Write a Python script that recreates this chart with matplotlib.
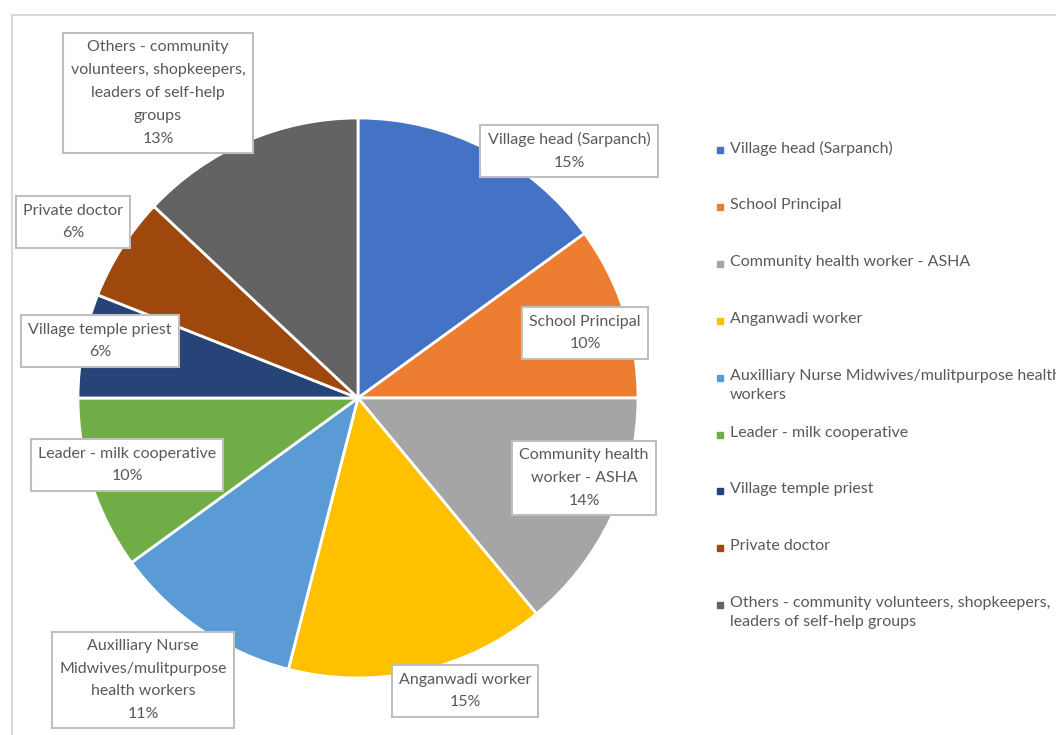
import matplotlib
matplotlib.use("Agg")
import matplotlib.pyplot as plt
from matplotlib.patches import Rectangle

plt.rcParams["font.family"] = ["Lato", "DejaVu Sans"]

categories = ["Village head (Sarpanch)", "School Principal",
              "Community health worker - ASHA", "Anganwadi worker",
              "Auxilliary Nurse Midwives/mulitpurpose health workers",
              "Leader - milk cooperative", "Village temple priest",
              "Private doctor",
              "Others - community volunteers, shopkeepers, leaders of self-help groups"]
shares = [15, 10, 14, 15, 11, 10, 6, 6, 13]
colors = ["#4472C4", "#ED7D31", "#A5A5A5", "#FFC000", "#5B9BD5",
          "#70AD47", "#264478", "#9E480E", "#636363"]

# wrapped text used in the data-label boxes
box_names = ["Village head (Sarpanch)", "School Principal",
             "Community health\nworker - ASHA", "Anganwadi worker",
             "Auxilliary Nurse\nMidwives/mulitpurpose\nhealth workers",
             "Leader - milk cooperative", "Village temple priest",
             "Private doctor",
             "Others - community\nvolunteers, shopkeepers,\nleaders of self-help\ngroups"]
# box centres in pixels (x, y from top)
box_pos = [(569, 151), (585, 333), (584, 478), (465, 691), (143, 680),
           (127, 465), (100, 341), (73, 222), (158, 93)]

legend_names = ["Village head (Sarpanch)", "School Principal",
                "Community health worker - ASHA", "Anganwadi worker",
                "Auxilliary Nurse Midwives/mulitpurpose health\nworkers",
                "Leader - milk cooperative", "Village temple priest",
                "Private doctor",
                "Others - community volunteers, shopkeepers,\nleaders of self-help groups"]

W, H = 1056, 735
fig = plt.figure(figsize=(W / 100, H / 100), dpi=100)
ax = fig.add_axes([0, 0, 1, 1])

# chart frame
fig.patches.append(Rectangle((12 / W, -0.1), 1.2, (H - 15) / H + 0.1,
                             transform=fig.transFigure, fill=False,
                             edgecolor="#d9d9d9", linewidth=1.5))

cx, cy, r = 358, H - 398, 280
ax.pie(shares, colors=colors, startangle=90, counterclock=False,
       center=(cx, cy), radius=r, frame=True,
       wedgeprops=dict(edgecolor="white", linewidth=2))
ax.set_xlim(0, W)
ax.set_ylim(0, H)
ax.axis("off")

txt_col = "#595959"
for name, val, (bx, by) in zip(box_names, shares, box_pos):
    ax.text(bx, H - by, f"{name}\n{val}%", ha="center", va="center",
            fontsize=11.5, color=txt_col, linespacing=1.8,
            bbox=dict(boxstyle="square,pad=0.45", facecolor="white",
                      edgecolor="#bfbfbf", linewidth=1.5))

# legend
for i, (name, c) in enumerate(zip(legend_names, colors)):
    y = H - (150 + i * 56.9)
    ax.plot(720, y, marker="s", markersize=5, color=c, linestyle="none")
    ax.text(730, y + 9, name, ha="left", va="top", fontsize=11.5,
            color=txt_col, linespacing=1.45)

fig.savefig("out.png", dpi=100)
